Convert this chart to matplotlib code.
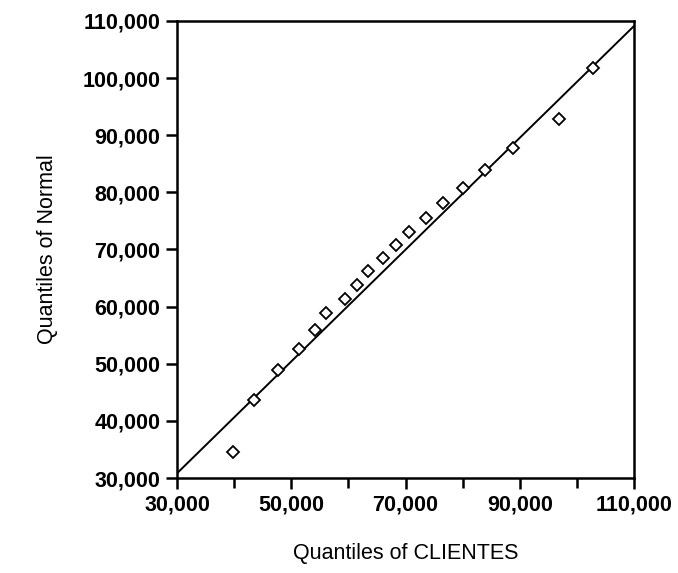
import matplotlib
matplotlib.use("Agg")
import matplotlib.pyplot as plt
from matplotlib.ticker import FuncFormatter, FixedLocator

# Data
clientes_q = [39750, 43480, 47630, 51410, 54155, 56080, 59405, 61560, 63485,
              66110, 68390, 70555, 73585, 76510, 80115, 83910, 88870, 96920, 102760]
normal_q = [34600, 43650, 48900, 52580, 55905, 58935, 61330, 63780, 66230,
            68455, 70785, 73060, 75455, 78190, 80710, 83910, 87710, 92785, 101820]
line_x = [30000, 110000]
line_y = [30820, 109120]
x_major = [30000, 50000, 70000, 90000, 110000]
x_minor = [40000, 60000, 80000, 100000]
y_major = [30000, 40000, 50000, 60000, 70000, 80000, 90000, 100000, 110000]

plt.rcParams['font.family'] = ['Liberation Sans', 'DejaVu Sans']

fig = plt.figure(figsize=(6.78, 5.73), dpi=100)
ax = fig.add_axes([177/678, 1 - 478/573, 457/678, 457/573])

ax.plot(line_x, line_y, color='black', lw=1.4, zorder=2)
ax.plot(clientes_q, normal_q, linestyle='none', marker='D', markersize=6,
        markerfacecolor='white', markeredgecolor='black', markeredgewidth=1.3, zorder=3)

ax.set_xlim(30000, 110000)
ax.set_ylim(30000, 110000)
ax.xaxis.set_major_locator(FixedLocator(x_major))
ax.xaxis.set_minor_locator(FixedLocator(x_minor))
ax.yaxis.set_major_locator(FixedLocator(y_major))
fmt = FuncFormatter(lambda v, p: f"{int(v):,}")
ax.xaxis.set_major_formatter(fmt)
ax.yaxis.set_major_formatter(fmt)

for s in ax.spines.values():
    s.set_linewidth(1.8)
ax.tick_params(which='both', direction='out', width=1.8, length=8, labelsize=15.5, pad=4)
ax.tick_params(axis='x', which='minor', length=7)
for lab in ax.get_xticklabels() + ax.get_yticklabels():
    lab.set_fontweight('bold')

ax.set_xlabel('Quantiles of CLIENTES', fontsize=15.5)
ax.set_ylabel('Quantiles of Normal', fontsize=15.5)
ax.xaxis.set_label_coords(0.5, 1 - (553 - 21) / 457, transform=ax.transAxes)
ax.xaxis.label.set_va('center')
ax.yaxis.set_label_coords((48 - 177) / 457, 0.5, transform=ax.transAxes)
ax.yaxis.label.set_va('center')

fig.savefig('out.png', dpi=100)
